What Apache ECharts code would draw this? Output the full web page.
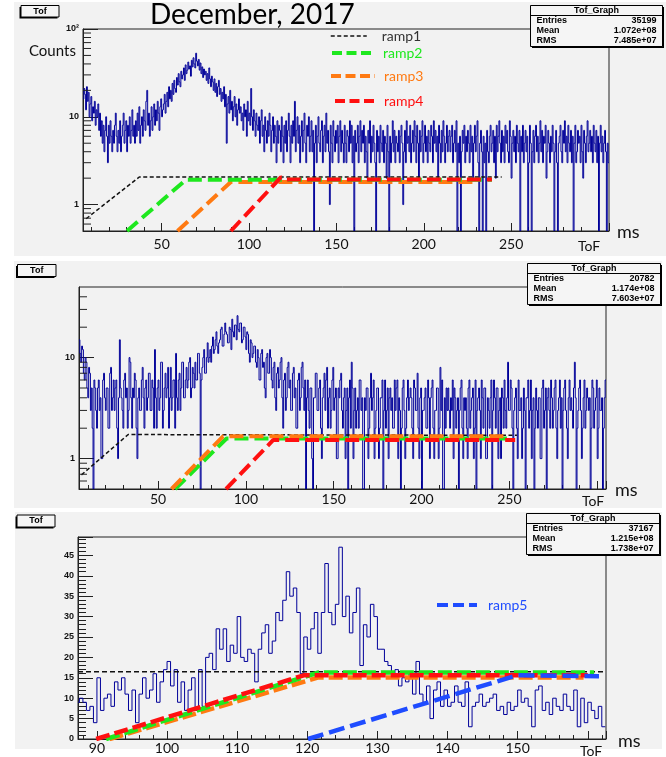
<!DOCTYPE html>
<html><head><meta charset="utf-8">
<script src="https://cdn.jsdelivr.net/npm/echarts@6/dist/echarts.min.js"></script>
<style>html,body{margin:0;padding:0;background:#fff}#c{width:666px;height:757px}</style>
</head><body><div id="c"></div>
<script>
// ---------------- data ----------------
const p1Start = 5, p1BinWidth = 0.5;
const p1Counts = [
 16,21,18,12,22,15,19,10,14,17,9,13,11,15,8,12,10,14,7,11,
 6,9,5,8,4,7,10,6,3,8,5,9,6,4,7,5,8,11,6,4,
 7,5,9,4,6,8,11,5,7,9,4,8,6,10,5,7,12,6,8,5,
 9,6,11,7,13,5,8,10,6,12,9,7,15,20,8,11,6,9,13,7,
 10,14,8,12,9,15,11,7,13,16,10,12,14,18,11,15,19,13,22,16,
 20,15,24,18,26,21,19,28,23,31,25,22,33,27,30,36,26,39,31,34,
 42,35,38,29,44,37,47,40,36,53,43,38,45,34,41,31,37,28,35,30,
 33,26,31,24,36,27,22,29,25,20,27,19,24,17,22,26,18,21,15,19,
 16,22,13,18,5,14,17,11,20,12,15,9,13,17,10,14,8,12,16,11,
 13,9,11,7,14,10,12,6,15,9,11,8,21,10,7,12,9,6,11,8,
 7,10,5,9,12,6,8,4,10,7,5,9,6,11,8,4,7,10,5,8,
 6,3,9,5,8,7,4,10,6,3,8,5,9,4,7,11,6,3,8,5,
 9,6,15,4,7,10,5,8,3,6,9,4,7,11,5,3,8,6,10,4,
 6,9,4,7,0,5,8,3,6,10,5,4,7,9,3,6,8,4,11,5,
 7,4,1,8,5,3,9,6,4,7,5,8,3,6,9,4,7,5,3,8,
 5,3,7,6,4,9,5,8,3,6,0,7,4,5,8,3,6,9,4,7,
 5,8,3,6,4,2,7,5,9,3,6,4,8,5,3,0,7,4,6,3,
 8,5,4,7,3,6,5,2,8,4,0,6,3,5,9,4,7,3,6,5,
 4,7,3,6,8,5,1,4,7,3,9,5,6,4,8,3,5,7,4,9,
 6,3,8,5,2,7,4,6,9,3,5,8,4,6,3,7,5,4,8,6,
 3,9,5,7,4,6,2,8,5,3,7,4,9,6,3,5,8,4,6,7,
 4,6,8,3,5,7,4,9,0,5,3,6,0,4,7,5,8,3,6,4,
 7,5,3,8,4,6,2,5,8,4,6,9,3,0,5,7,4,0,6,3,
 5,0,7,4,3,6,8,4,5,7,3,6,2,8,4,6,9,5,3,7,
 4,6,3,8,5,7,4,3,9,6,2,5,7,4,6,3,8,5,4,7,
 0,6,4,8,3,5,7,4,6,0,3,8,5,0,4,7,3,6,8,4,
 6,3,5,9,4,7,3,6,5,8,2,4,7,5,3,6,4,8,5,0,
 4,7,3,0,5,6,8,4,3,7,5,9,4,6,3,8,5,4,7,3,
 6,0,5,8,3,4,7,5,6,3,8,4,2,7,5,3,6,9,4,5,
 7,4,6,3,8,5,4,7,3,6,0,5,8,4,6,3,5,7,4,0,
 5,3
];
const p2Start = 5, p2BinWidth = 0.5;
const p2Counts = [
 15,11,9,13,12,7,6,10,9,5,4,8,7,3,5,2,0,6,5,3,
 2,5,6,3,4,1,1,6,7,4,3,5,5,2,2,7,8,3,4,6,
 3,5,6,2,1,4,15,5,4,3,2,6,7,4,5,2,3,10,9,4,
 2,5,4,7,6,2,1,4,5,3,3,6,8,4,2,5,6,3,4,7,
 7,3,3,6,5,2,12,4,2,5,6,3,4,9,9,2,3,5,7,4,
 5,8,2,4,8,3,4,6,6,2,11,4,3,6,7,3,5,9,9,4,
 4,6,8,5,6,9,10,4,5,8,7,5,9,6,6,11,11,7,0,6,
 8,10,12,7,7,10,14,9,10,12,9,13,16,11,12,15,18,13,11,14,
 15,19,20,13,13,17,22,18,17,14,14,20,19,12,24,18,16,21,21,15,
 26,19,18,22,22,14,15,20,20,16,12,18,17,11,9,15,14,10,11,13,
 13,9,8,12,10,6,6,11,12,8,9,5,4,10,11,7,7,12,10,6,
 5,8,9,4,3,7,8,5,6,9,10,4,2,6,7,3,4,8,9,5,
 6,3,3,7,8,4,5,2,2,6,7,3,4,8,9,5,3,6,0,4,
 6,3,2,5,5,1,0,4,4,7,7,3,3,5,6,2,1,4,5,7,
 3,6,8,2,4,5,2,3,6,8,3,4,5,1,1,5,4,6,7,3,
 2,4,5,1,3,5,0,4,6,2,9,5,1,3,5,2,3,4,2,6,
 6,3,4,0,0,4,3,5,5,1,2,4,7,3,4,6,1,2,3,5,
 5,1,2,4,4,6,0,3,6,2,3,5,1,4,5,3,4,2,2,6,
 3,5,6,1,4,3,0,2,5,6,3,1,2,4,6,3,4,5,4,2,
 1,6,5,3,3,7,2,1,4,5,0,3,3,4,5,2,2,6,4,1,
 4,5,6,2,1,3,3,5,5,1,2,8,3,6,0,0,4,2,5,3,
 5,3,2,4,3,6,1,5,4,2,3,4,0,3,5,6,2,1,4,3,
 4,2,1,5,6,2,3,4,5,1,2,6,0,3,4,5,3,1,6,4,
 2,5,5,1,1,4,3,2,4,6,0,3,6,4,2,5,5,1,3,4,
 1,5,4,2,6,3,2,4,9,3,3,6,5,2,0,3,4,5,2,1,
 6,3,3,4,1,2,5,3,0,4,4,6,2,3,6,1,3,4,0,2,
 5,3,2,4,4,1,1,5,6,2,3,5,0,4,5,3,2,6,4,2,
 3,5,6,2,1,3,4,6,2,4,0,3,5,6,3,2,1,4,6,3,
 4,3,2,5,9,4,0,2,3,5,6,3,1,2,4,6,2,3,5,4,
 3,4,0,2,6,5,2,3,4,6,1,2,5,3,3,4,0,2,4,6
];
const p3Start = 87.0, p3BinWidth = 0.5;
const p3Counts = [
 9,
 10,9,7,8,4,15,7,10,11,8,
 14,12,15,11,7,12,4,11,15,10,
 12,16,9,14,17,19,13,17,9,14,
 7,12,15,7,17,8,20,21,17,27,
 22,27,19,23,21,30,20,19,22,21,
 14,22,26,28,21,24,31,29,34,41,
 35,37,31,16,25,22,27,31,21,31,
 43,31,28,33,47,30,35,26,31,37,
 18,28,25,33,30,22,22,19,18,16,
 17,13,15,14,16,11,19,11,9,13,
 5,12,14,8,12,8,9,13,9,8,
 14,3,8,9,11,8,9,10,11,7,
 8,6,9,7,8,12,9,10,8,3,
 12,13,7,9,6,10,8,7,11,8,
 7,12,3,10,4,9,7,5,8,3
];
// ramps [ToF ms, counts]
const p1Ramp1 = [[6.8,0.69],[37.2,2.06],[244.6,2.06]];
const p1Ramp2 = [[30.2,0.5],[63.9,1.92],[239,1.92]];
const p1Ramp3 = [[59.1,0.5],[89.6,1.81],[230.4,1.81]];
const p1Ramp4 = [[89.6,0.5],[118.3,2.05],[121,1.93],[239,1.93]];
const p2Ramp1 = [[6.4,0.69],[33,1.73],[254.3,1.7]];
const p2Ramp2 = [[59.7,0.5],[89,1.58],[248.6,1.58]];
const p2Ramp3 = [[57.7,0.5],[87,1.66],[247.6,1.66]];
const p2Ramp4 = [[88.7,0.5],[115.6,1.53],[253.3,1.53]];
const p3Ramp1 = [[87.3,16.5],[162.6,16.5]];
const p3Ramp2 = [[91.3,0],[121.6,16.3],[160.9,16.3]];
const p3Ramp3 = [[91.8,0],[121.6,15.1],[159.4,15.1]];
const p3Ramp4 = [[89.9,0],[119.5,15.6],[160,15.6]];
const p3Ramp5 = [[120.1,0],[149.9,15.6],[161.6,15.4]];
// tick labels
const p1XLabels = [50,100,150,200,250];
const p2XLabels = [50,100,150,200,250];
const p3XLabels = [90,100,110,120,130,140,150];
const p1YTicks = [1,10,100], p1YLabels = ['1','10','10\u00B2'];
const p2YTicks = [1,10], p2YLabels = ['1','10'];
const p3YLabels = [0,5,10,15,20,25,30,35,40,45];
const p1LogMinor = [0.6,0.7,0.8,0.9,2,3,4,5,6,7,8,9,20,30,40,50,60,70,80,90];
const p2LogMinor = [0.6,0.7,0.8,0.9,2,3,4,5,6,7,8,9,20,30,40];
// stats boxes
const statTitle = ['Tof_Graph','Tof_Graph','Tof_Graph'];
const statEntries = ['35199','20782','37167'];
const statMean = ['1.072e+08','1.174e+08','1.215e+08'];
const statRMS = ['7.485e+07','7.603e+07','1.738e+07'];

// -------------- build ----------------
const AX = {min1:5,max1:306,min2:5,max2:305,min3:87.3,max3:162.6};
const Y = {min1:0.5,max1:100,min2:0.5,max2:50,min3:0,max3:49.5};
const HCOL = '#000099';
const C = {r1:'#111111', r2:'#1ee81e', r3:'#ff7a12', r4:'#ff1010', r5:'#1f4cff'};

function histData(start, w, counts){
  return counts.map((c,i)=>[start+i*w, start+(i+1)*w, c, i>0?counts[i-1]:c]);
}
function histRender(floor){
  return function(params, api){
    const x0=api.value(0), x1=api.value(1);
    const y=Math.max(api.value(2),floor), yp=Math.max(api.value(3),floor);
    const a=api.coord([x0,yp]), b=api.coord([x0,y]), c=api.coord([x1,y]);
    return {type:'polyline', shape:{points:[a,b,c]}, style:{stroke:HCOL, lineWidth:1, fill:'none'}};
  };
}
function minorRender(params, api){
  const p = api.coord([api.value(0), api.value(1)]);
  return {type:'line', shape:{x1:p[0], y1:p[1], x2:p[0]+8, y2:p[1]}, style:{stroke:'#222', lineWidth:1}};
}
function labelFrom(ticks, labels){
  return v => { for (let i=0;i<ticks.length;i++){ if (Math.abs(Math.log10(v)-Math.log10(ticks[i]))<1e-6) return labels[i]; } return ''; };
}
const yLabelStyle = {fontFamily:'Liberation Sans', fontWeight:'bold', fontSize:9, color:'#111', margin:4};
function xAxis(gi, min, max, split, labels, margin){
  return {gridIndex:gi, type:'value', min, max, splitNumber:split,
    axisLine:{show:true, onZero:false, lineStyle:{color:'#222'}},
    axisTick:{show:true, inside:true, length:8, lineStyle:{color:'#222'}},
    minorTick:{show:true, splitNumber:5, length:4, lineStyle:{color:'#222'}},
    splitLine:{show:false},
    axisLabel:{formatter: v => labels.includes(Math.round(v*1000)/1000) ? String(v) : '', fontFamily:'Lato', fontSize:14, color:'#111', margin, showMinLabel:true, showMaxLabel:true}};
}
function ramp(name, data, gi, color, width, dash, z){
  return {type:'line', name, data, xAxisIndex:gi, yAxisIndex:gi, symbol:'none', showSymbol:false, z,
    itemStyle:{color}, lineStyle:{color, width, type:dash}, silent:true, animation:false};
}
function legendFor(name, left, top, color, lw, dash, iw, pad){
  return {data:[name], left, top, itemWidth:iw, itemHeight:14, selectedMode:false, padding:0,
    textStyle:{color, fontFamily:'Lato', fontSize:14, padding:[0,0,0,pad]},
    lineStyle:{width:lw, type:dash}, itemStyle:{color:'transparent', borderWidth:0, opacity:0}};
}
function statsBox(i, x, y, w, h){
  const f = 'bold 9px "Liberation Sans"';
  return [
    {type:'rect', shape:{x:x+1.5,y:y+1.5,width:w,height:h}, style:{fill:'#000'}, z:100},
    {type:'rect', shape:{x,y,width:w,height:h}, style:{fill:'#f5f5f5', stroke:'#000', lineWidth:1}, z:101},
    {type:'line', shape:{x1:x,y1:y+10,x2:x+w,y2:y+10}, style:{stroke:'#000',lineWidth:1}, z:102},
    {type:'text', x:x+w/2, y:y+5, style:{text:statTitle[i], font:f, fill:'#000', align:'center', verticalAlign:'middle'}, z:103},
    {type:'text', x:x+6, y:y+15.5, style:{text:'Entries', font:f, fill:'#000', align:'left', verticalAlign:'middle'}, z:103},
    {type:'text', x:x+w-6, y:y+15.5, style:{text:statEntries[i], font:f, fill:'#000', align:'right', verticalAlign:'middle'}, z:103},
    {type:'text', x:x+6, y:y+25.5, style:{text:'Mean', font:f, fill:'#000', align:'left', verticalAlign:'middle'}, z:103},
    {type:'text', x:x+w-6, y:y+25.5, style:{text:statMean[i], font:f, fill:'#000', align:'right', verticalAlign:'middle'}, z:103},
    {type:'text', x:x+6, y:y+35.5, style:{text:'RMS', font:f, fill:'#000', align:'left', verticalAlign:'middle'}, z:103},
    {type:'text', x:x+w-6, y:y+35.5, style:{text:statRMS[i], font:f, fill:'#000', align:'right', verticalAlign:'middle'}, z:103}
  ];
}
function tofBox(x, y, w, h){
  return [
    {type:'rect', shape:{x:x-1.5,y:y+1.5,width:w,height:h}, style:{fill:'#000'}, z:100},
    {type:'rect', shape:{x,y,width:w,height:h}, style:{fill:'#f5f5f5', stroke:'#000', lineWidth:1}, z:101},
    {type:'text', x:x+w/2, y:y+h/2, style:{text:'Tof', font:'bold 9px "Liberation Sans"', fill:'#000', align:'center', verticalAlign:'middle'}, z:103}
  ];
}
function txt(t, x, y, size, color){
  return {type:'text', x, y, style:{text:t, font:size+'px Lato', fill:color||'#111', align:'left', verticalAlign:'middle'}, z:103};
}

const option = {
  animation:false,
  grid:[
    {left:83, top:29, width:526, height:202, show:true, borderColor:'#222', borderWidth:1, backgroundColor:'transparent'},
    {left:79, top:287, width:527, height:202, show:true, borderColor:'#222', borderWidth:1, backgroundColor:'transparent'},
    {left:78, top:537, width:528, height:202, show:true, borderColor:'#222', borderWidth:1, backgroundColor:'transparent'}
  ],
  xAxis:[
    xAxis(0, AX.min1, AX.max1, 6, p1XLabels, 6),
    xAxis(1, AX.min2, AX.max2, 6, p2XLabels, 3),
    xAxis(2, AX.min3, AX.max3, 8, p3XLabels, 2)
  ],
  yAxis:[
    {gridIndex:0, type:'log', logBase:10, min:Y.min1, max:Y.max1,
      axisLine:{show:true, lineStyle:{color:'#222'}}, axisTick:{show:true, inside:true, length:15, lineStyle:{color:'#222'}},
      splitLine:{show:false}, minorTick:{show:false},
      axisLabel:Object.assign({formatter:labelFrom(p1YTicks,p1YLabels), showMinLabel:false}, yLabelStyle)},
    {gridIndex:1, type:'log', logBase:10, min:Y.min2, max:Y.max2,
      axisLine:{show:true, lineStyle:{color:'#222'}}, axisTick:{show:true, inside:true, length:15, lineStyle:{color:'#222'}},
      splitLine:{show:false}, minorTick:{show:false},
      axisLabel:Object.assign({formatter:labelFrom(p2YTicks,p2YLabels), showMinLabel:false, showMaxLabel:false}, yLabelStyle)},
    {gridIndex:2, type:'value', min:Y.min3, max:Y.max3, interval:5,
      axisLine:{show:true, onZero:false, lineStyle:{color:'#222'}}, axisTick:{show:true, inside:true, length:15, lineStyle:{color:'#222'}},
      splitLine:{show:false}, minorTick:{show:true, splitNumber:5, length:8, lineStyle:{color:'#222'}},
      axisLabel:Object.assign({formatter: v => p3YLabels.includes(v) ? String(v) : '', showMaxLabel:false}, yLabelStyle)}
  ],
  legend:[
    legendFor('ramp1', 330, 29, '#333', 1.5, [4,2.5], 36, 10),
    legendFor('ramp2', 330, 46, C.r2, 4, [10,4.5], 40, 6),
    legendFor('ramp3', 329, 69, C.r3, 4, [10,4.5], 44, 4),
    legendFor('ramp4', 333, 94, C.r4, 4, [10,4.5], 40, 4),
    legendFor('ramp5', 435, 598, C.r5, 4, [11,5], 40, 6)
  ],
  series:[
    {type:'custom', xAxisIndex:0, yAxisIndex:0, data:histData(p1Start,p1BinWidth,p1Counts), renderItem:histRender(Y.min1), clip:true, silent:true, z:2},
    {type:'custom', xAxisIndex:0, yAxisIndex:0, data:p1LogMinor.map(v=>[AX.min1,v]), renderItem:minorRender, silent:true, z:4},
    ramp('ramp1', p1Ramp1, 0, C.r1, 1.5, [4,2.5], 3),
    ramp('ramp3', p1Ramp3, 0, C.r3, 4, [14,6], 4),
    ramp('ramp2', p1Ramp2, 0, C.r2, 4, [14,6], 5),
    ramp('ramp4', p1Ramp4, 0, C.r4, 4, [14,6], 6),

    {type:'custom', xAxisIndex:1, yAxisIndex:1, data:histData(p2Start,p2BinWidth,p2Counts), renderItem:histRender(Y.min2), clip:true, silent:true, z:2},
    {type:'custom', xAxisIndex:1, yAxisIndex:1, data:p2LogMinor.map(v=>[AX.min2,v]), renderItem:minorRender, silent:true, z:4},
    ramp('ramp1', p2Ramp1, 1, C.r1, 1.5, [4,2.5], 3),
    ramp('ramp2', p2Ramp2, 1, C.r2, 4, [14,6], 4),
    ramp('ramp3', p2Ramp3, 1, C.r3, 4, [14,6], 5),
    ramp('ramp4', p2Ramp4, 1, C.r4, 4, [14,6], 6),

    {type:'custom', xAxisIndex:2, yAxisIndex:2, data:histData(p3Start,p3BinWidth,p3Counts), renderItem:histRender(Y.min3), clip:true, silent:true, z:2},
    ramp('ramp1', p3Ramp1, 2, C.r1, 1.5, [5,3], 3),
    ramp('ramp3', p3Ramp3, 2, C.r3, 4.5, [14,5], 4),
    ramp('ramp2', p3Ramp2, 2, C.r2, 4.5, [14,5], 5),
    ramp('ramp4', p3Ramp4, 2, C.r4, 4.5, [14,5], 6),
    ramp('ramp5', p3Ramp5, 2, C.r5, 4.5, [16,6], 7)
  ],
  graphic:{elements:[
    {type:'rect', shape:{x:14,y:2,width:652,height:254}, style:{fill:'#f2f2f2'}, z:-10},
    {type:'rect', shape:{x:14,y:261,width:648,height:247}, style:{fill:'#f2f2f2'}, z:-10},
    {type:'rect', shape:{x:15,y:512,width:647,height:237}, style:{fill:'#f2f2f2'}, z:-10},
    ...statsBox(0, 530.5, 5.5, 132, 41),
    ...statsBox(1, 527.5, 263.5, 133, 41),
    ...statsBox(2, 526.5, 513.5, 133, 41),
    ...tofBox(21, 5.5, 38, 11.5),
    ...tofBox(17.5, 264.5, 38.5, 12),
    ...tofBox(17, 515, 38, 12),
    {type:'text', x:150, y:15, style:{text:'December, 2017', font:'28px Lato', fill:'#000', align:'left', verticalAlign:'middle'}, z:103},
    txt('Counts', 29, 51, 15, '#111'),
    txt('ms', 617, 232, 18), txt('ToF', 578, 246, 14),
    txt('ms', 615, 490, 18), txt('ToF', 582, 501, 14),
    txt('ms', 618, 741, 18), txt('ToF', 580, 751, 14)
  ]}
};
const chart = echarts.init(document.getElementById('c'));
chart.setOption(option);
</script>
</body></html>
